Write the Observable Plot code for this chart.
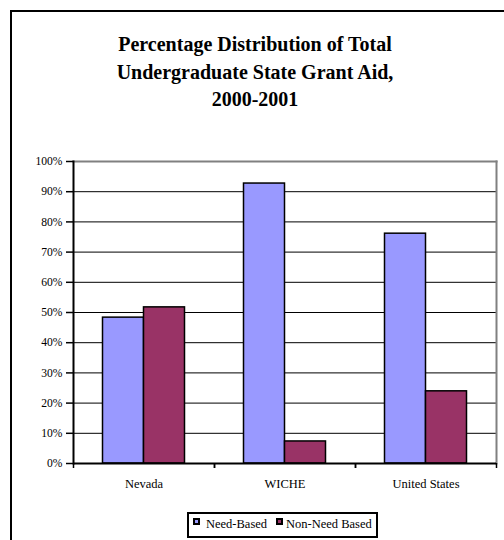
<!DOCTYPE html>
<html>
<head>
<meta charset="utf-8">
<script src="https://cdn.jsdelivr.net/npm/d3@7"></script>
<script src="https://cdn.jsdelivr.net/npm/@observablehq/plot@0.6"></script>
<style>
  html, body { margin: 0; padding: 0; background: #fff; overflow: hidden; }
  #wrap { position: relative; width: 504px; height: 540px; overflow: hidden; font-family: "Liberation Serif", "Times New Roman", Times, serif; color: #000; }
  #frame { position: absolute; left: 10px; top: 9.5px; width: 492px; height: 529px; border-left: 2px solid #000; border-top: 2px solid #000; }
  #title { position: absolute; left: 10px; width: 490px; top: 31px; text-align: center; font-weight: bold; font-size: 20px; line-height: 27.5px; }
  #chart { position: absolute; left: 0; top: 0; }
  #legend { position: absolute; left: 187px; top: 512px; width: 187px; height: 22px; border: 2px solid #000; background: #fff; }
  .mk { position: absolute; width: 3px; height: 3px; border: 2px solid #000; }
  .lt { position: absolute; top: 0; font-size: 12.5px; line-height: 21px; white-space: nowrap; }
</style>
</head>
<body>
<div id="wrap">
  <div id="frame"></div>
  <div id="chart"></div>
  <div id="title">Percentage Distribution of Total<br>Undergraduate State Grant Aid,<br>2000-2001</div>
  <div id="legend"></div>
</div>
<script>
const categories = ["Nevada", "WICHE", "United States"];
const series = ["Need-Based", "Non-Need Based"];
const needBased = [48.3, 92.7, 76.1];
const nonNeedBased = [51.7, 7.3, 23.9];
const yTicks = [0, 10, 20, 30, 40, 50, 60, 70, 80, 90, 100];
const seriesColors = ["#9999FF", "#993366"];

const rows = categories.flatMap((c, i) => [
  {category: c, series: series[0], value: needBased[i]},
  {category: c, series: series[1], value: nonNeedBased[i]}
]);

const W = 504, H = 540, mL = 73, mR = 8, mT = 161, mB = 77;
const bw = (W - mL - mR) / categories.length;
const barW = 41;
const serif = "'Liberation Serif', 'Times New Roman', Times, serif";

const plot = Plot.plot({
  width: W,
  height: H,
  marginLeft: mL,
  marginRight: mR,
  marginTop: mT,
  marginBottom: mB,
  style: {fontFamily: serif, background: "transparent", color: "#000"},
  x: {domain: categories, padding: 0, label: null},
  y: {domain: [0, 100], label: null},
  color: {domain: series, range: seriesColors},
  marks: [
    Plot.ruleY(yTicks.filter(d => d > 0 && d < 100), {stroke: "#000", strokeWidth: 1}),
    Plot.frame({anchor: "top", stroke: "#808080", strokeWidth: 2}),
    Plot.frame({anchor: "right", stroke: "#808080", strokeWidth: 2}),
    Plot.barY(rows.filter(d => d.series === series[0]), {
      x: "category", y: "value", fill: "series", stroke: "#000", strokeWidth: 1.5,
      insetLeft: bw / 2 - barW, insetRight: bw / 2
    }),
    Plot.barY(rows.filter(d => d.series === series[1]), {
      x: "category", y: "value", fill: "series", stroke: "#000", strokeWidth: 1.5,
      insetLeft: bw / 2, insetRight: bw / 2 - barW
    }),
    Plot.frame({anchor: "left", stroke: "#000", strokeWidth: 2}),
    Plot.ruleY([0], {stroke: "#000", strokeWidth: 2}),
    Plot.axisY({ticks: yTicks, tickSize: 7, tickPadding: 4, tickFormat: d => d + "%", fontSize: 11.6, strokeWidth: 1.5, color: "#000", label: null}),
    Plot.axisX({tickSize: 0, tickPadding: 15.5, fontSize: 12.5, color: "#000", label: null}),
    Plot.axisX({tickSize: 5, tickFormat: () => "", dx: -bw / 2, strokeWidth: 1.5, color: "#000", label: null}),
    Plot.axisX({tickSize: 5, tickFormat: () => "", dx: bw / 2, strokeWidth: 1.5, color: "#000", label: null})
  ]
});
document.getElementById("chart").appendChild(plot);

// Legend built from the plot's color scale
const colorScale = plot.scale("color");
const legend = document.getElementById("legend");
const itemPos = [[4, 17], [87, 97]];
colorScale.domain.forEach((name, i) => {
  const mk = document.createElement("div");
  mk.className = "mk";
  mk.style.left = itemPos[i][0] + "px";
  mk.style.top = "4px";
  mk.style.background = colorScale.range[i];
  legend.appendChild(mk);
  const t = document.createElement("div");
  t.className = "lt";
  t.style.left = itemPos[i][1] + "px";
  t.textContent = name;
  legend.appendChild(t);
});
</script>
</body>
</html>
